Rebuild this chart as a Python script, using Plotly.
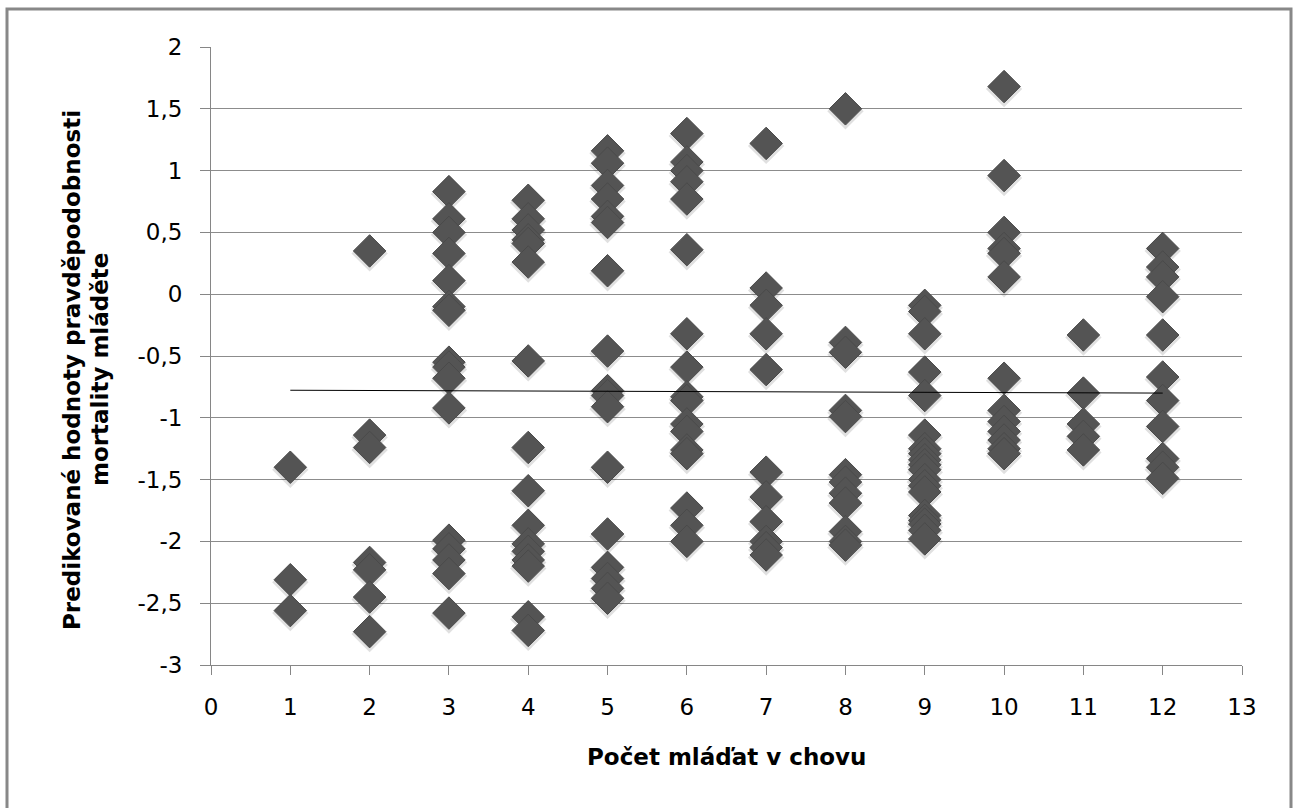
import plotly.graph_objects as go

# Number of young in the litter (x) and predicted mortality values (y)
y_1 = [-1.40, -2.31, -2.56]
y_2 = [0.35, -1.14, -1.24, -2.17, -2.23, -2.45, -2.73]
y_3 = [0.83, 0.61, 0.50, 0.33, 0.11, -0.10, -0.13, -0.55, -0.59, -0.68, -0.92,
       -1.99, -2.06, -2.15, -2.26, -2.58]
y_4 = [0.76, 0.61, 0.52, 0.44, 0.41, 0.26, -0.54, -1.24, -1.59, -1.87, -2.02,
       -2.08, -2.15, -2.20, -2.61, -2.72]
y_5 = [1.16, 1.06, 0.88, 0.77, 0.63, 0.58, 0.19, -0.46, -0.78, -0.82, -0.91,
       -1.40, -1.94, -2.21, -2.30, -2.38, -2.46]
y_6 = [1.30, 1.07, 1.00, 0.91, 0.77, 0.36, -0.32, -0.59, -0.83, -0.86, -1.05,
       -1.11, -1.26, -1.29, -1.73, -1.87, -2.00]
y_7 = [1.22, 0.05, -0.09, -0.32, -0.61, -1.44, -1.64, -1.84, -2.00, -2.05, -2.11]
y_8 = [1.50, -0.39, -0.47, -0.94, -0.99, -1.46, -1.52, -1.61, -1.69, -1.92,
       -2.00, -2.03]
y_9 = [-0.09, -0.14, -0.32, -0.63, -0.82, -1.14, -1.25, -1.29, -1.34, -1.38,
       -1.42, -1.50, -1.55, -1.60, -1.79, -1.83, -1.86, -1.91, -1.98]
y_10 = [1.68, 0.96, 0.50, 0.37, 0.33, 0.14, -0.68, -0.94, -1.03, -1.11, -1.18,
        -1.25, -1.29]
y_11 = [-0.33, -0.80, -1.05, -1.15, -1.26]
y_12 = [0.37, 0.22, 0.14, -0.02, -0.33, -0.67, -0.86, -1.07, -1.33, -1.40, -1.49]

counts = [1, 2, 3, 4, 5, 6, 7, 8, 9, 10, 11, 12]
values_by_count = [y_1, y_2, y_3, y_4, y_5, y_6, y_7, y_8, y_9, y_10, y_11, y_12]

# Linear trendline endpoints
trend_x = [1, 12]
trend_y = [-0.777, -0.80]

x_tick_vals = list(range(0, 14))
x_tick_labels = [str(v) for v in x_tick_vals]
y_tick_vals = [2, 1.5, 1, 0.5, 0, -0.5, -1, -1.5, -2, -2.5, -3]
y_tick_labels = ["2", "1,5", "1", "0,5", "0", "-0,5", "-1", "-1,5", "-2", "-2,5", "-3"]

x_title = "Počet mláďat v chovu"
y_title_1 = "Predikované hodnoty pravděpodobnosti"
y_title_2 = "mortality mláděte"

xs, ys = [], []
for c, vals in zip(counts, values_by_count):
    xs.extend([c] * len(vals))
    ys.extend(vals)

W, H = 1295, 808
L, R, T, B = 211, 1242, 47, 665
PW, PH = R - L, B - T

def px_x(p):
    return (p - L) / PW

def px_y(p):
    return (B - p) / PH

fig = go.Figure()
# soft shadow
fig.add_trace(go.Scatter(
    x=xs, y=[v - 0.02 for v in ys], mode="markers",
    marker=dict(symbol="diamond", size=28, color="rgba(0,0,0,0.12)", line=dict(width=0)),
    hoverinfo="skip", showlegend=False))
fig.add_trace(go.Scatter(
    x=xs, y=ys, mode="markers",
    marker=dict(symbol="diamond", size=25, color="#545454",
                line=dict(width=1, color="#4a4a4a")),
    showlegend=False))
fig.add_trace(go.Scatter(
    x=trend_x, y=trend_y, mode="lines",
    line=dict(color="#000000", width=1), showlegend=False, hoverinfo="skip"))

font_family = "'DejaVu Sans', sans-serif"
fig.update_layout(
    width=W, height=H,
    margin=dict(l=L, r=W - R, t=T, b=H - B),
    paper_bgcolor="white", plot_bgcolor="white",
    font=dict(family=font_family, size=23, color="#000000"),
    xaxis=dict(
        range=[0, 13], tickvals=x_tick_vals, ticktext=x_tick_labels,
        showgrid=False, zeroline=False, showline=True, linecolor="#868686", linewidth=1,
        ticks="outside", ticklen=9, tickcolor="#868686", tickwidth=1,
        tickfont=dict(size=23), ticklabelstandoff=12,
    ),
    yaxis=dict(
        range=[-3, 2], tickvals=y_tick_vals, ticktext=y_tick_labels,
        showgrid=True, gridcolor="#8c8c8c", gridwidth=1,
        zeroline=False, showline=True, linecolor="#868686", linewidth=1,
        ticks="outside", ticklen=10, tickcolor="#868686", tickwidth=1,
        tickfont=dict(size=23), ticklabelstandoff=13,
    ),
    annotations=[
        dict(text="<b>" + x_title + "</b>", xref="paper", yref="paper",
             x=0.5, y=px_y(757), xanchor="center", yanchor="middle",
             showarrow=False, font=dict(size=23)),
        dict(text="<b>" + y_title_1 + "</b>", xref="paper", yref="paper",
             x=px_x(72), y=px_y(370), xanchor="center", yanchor="middle",
             textangle=-90, showarrow=False, font=dict(size=23)),
        dict(text="<b>" + y_title_2 + "</b>", xref="paper", yref="paper",
             x=px_x(100), y=px_y(370), xanchor="center", yanchor="middle",
             textangle=-90, showarrow=False, font=dict(size=23)),
    ],
    shapes=[
        dict(type="rect", xref="paper", yref="paper",
             x0=px_x(7), x1=px_x(1291),
             y0=px_y(815), y1=px_y(9),
             line=dict(color="#888888", width=3), fillcolor="rgba(0,0,0,0)", layer="below"),
    ],
)

fig.write_html("out.html", config={"displayModeBar": False},
               post_script="document.body.style.margin='0';document.body.style.overflow='hidden';")
